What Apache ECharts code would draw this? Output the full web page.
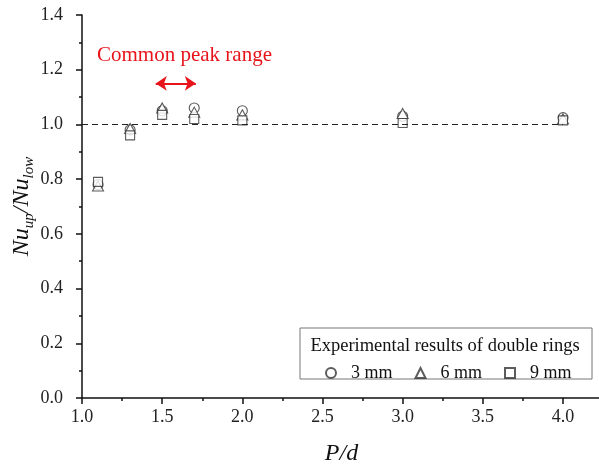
<!DOCTYPE html>
<html>
<head>
<meta charset="utf-8">
<script src="https://cdn.jsdelivr.net/npm/echarts@6/dist/echarts.min.js"></script>
<style>
html,body{margin:0;padding:0;background:#fff;}
#c{width:599px;height:466px;}
</style>
</head>
<body>
<div id="c"></div>
<script>
// Data
const pd = [1.1, 1.3, 1.5, 1.7, 2.0, 3.0, 4.0];
const ratio3mm = [0.78, 0.98, 1.05, 1.06, 1.05, 1.03, 1.025];
const ratio6mm = [0.775, 0.985, 1.06, 1.045, 1.035, 1.04, 1.02];
const ratio9mm = [0.79, 0.96, 1.035, 1.02, 1.015, 1.005, 1.015];
const seriesNames = ['3 mm', '6 mm', '9 mm'];
const xTicks = [1.0, 1.5, 2.0, 2.5, 3.0, 3.5, 4.0];
const yTicks = [0.0, 0.2, 0.4, 0.6, 0.8, 1.0, 1.2, 1.4];
const refLine = [[1.0, 1.0], [4.0, 1.0]];
const peakArrow = [[1.46, 1.15], [1.71, 1.15]];

const FONT = '"Liberation Serif","Times New Roman",serif';
const pair = (xs, ys) => xs.map((x, i) => [x, ys[i]]);

const chart = echarts.init(document.getElementById('c'), null, {renderer: 'canvas'});

const markerBase = {
  type: 'scatter',
  symbolSize: 9,
  clip: false,
  itemStyle: {color: '#ffffff', borderColor: '#333333', borderWidth: 1.1},
  emphasis: {disabled: true}
};

const option = {
  animation: false,
  backgroundColor: '#ffffff',
  grid: {left: 82, right: 36, top: 15, bottom: 68, containLabel: false, outerBoundsMode: 'none'},
  xAxis: {
    type: 'value',
    min: xTicks[0],
    max: xTicks[xTicks.length - 1],
    interval: 0.5,
    name: 'P/d',
    nameLocation: 'middle',
    nameGap: 44,
    nameMoveOverlap: false,
    nameTextStyle: {fontFamily: FONT, fontStyle: 'italic', fontSize: 24, color: '#111',
      padding: [0, 0, 0, 38]},
    axisLine: {show: true, onZero: false, lineStyle: {color: '#111', width: 1.5}},
    axisTick: {show: true, inside: false, length: 6, lineStyle: {color: '#111', width: 1.5}},
    minorTick: {show: true, splitNumber: 2, length: 3, lineStyle: {color: '#111', width: 1.5}},
    axisLabel: {fontFamily: FONT, fontSize: 18, color: '#222', margin: 10,
      formatter: v => v.toFixed(1)},
    splitLine: {show: false}
  },
  yAxis: {
    type: 'value',
    min: yTicks[0],
    max: yTicks[yTicks.length - 1],
    interval: 0.2,
    name: '{n|Nu}{s|up}{n|/Nu}{s|low}',
    nameLocation: 'middle',
    nameRotate: 90,
    nameGap: 45,
    nameMoveOverlap: false,
    nameTextStyle: {
      fontFamily: FONT, color: '#111',
      rich: {
        n: {fontFamily: FONT, fontStyle: 'italic', fontSize: 24, lineHeight: 30, color: '#111'},
        s: {fontFamily: FONT, fontStyle: 'italic', fontSize: 15, lineHeight: 15, verticalAlign: 'bottom', color: '#111'}
      }
    },
    axisLine: {show: true, onZero: false, lineStyle: {color: '#111', width: 1.5}},
    axisTick: {show: true, inside: false, length: 6, lineStyle: {color: '#111', width: 1.5}},
    minorTick: {show: true, splitNumber: 2, length: 3, lineStyle: {color: '#111', width: 1.5}},
    axisLabel: {fontFamily: FONT, fontSize: 18, color: '#222', margin: 19,
      formatter: v => v.toFixed(1)},
    splitLine: {show: false}
  },
  legend: {
    show: true,
    left: 320,
    top: 359,
    itemWidth: 10,
    itemHeight: 10,
    itemGap: 22,
    data: seriesNames.map((n, i) => ({name: n, icon: ['circle', 'triangle', 'rect'][i]})),
    textStyle: {fontFamily: FONT, fontSize: 18, color: '#111', padding: [0, 0, 0, 10]},
    selectedMode: false
  },
  series: [
    Object.assign({}, markerBase, {
      name: seriesNames[0], symbol: 'circle', symbolSize: 10, z: 2,
      data: pair(pd, ratio3mm),
      markLine: {
        silent: true, symbol: ['none', 'none'],
        lineStyle: {type: [6, 4], color: '#222', width: 1.2},
        label: {show: false},
        data: [[{coord: refLine[0]}, {coord: refLine[1]}]]
      }
    }),
    Object.assign({}, markerBase, {
      name: seriesNames[1], symbol: 'triangle', symbolSize: [11, 10], z: 3,
      data: pair(pd, ratio6mm),
      markLine: {
        silent: true, symbol: ['arrow', 'arrow'], symbolSize: [11, 11],
        lineStyle: {type: 'solid', color: '#e8141b', width: 2},
        itemStyle: {color: '#e8141b'},
        label: {show: false},
        data: [[{coord: peakArrow[0]}, {coord: peakArrow[1]}]]
      }
    }),
    Object.assign({}, markerBase, {
      name: seriesNames[2], symbol: 'rect', symbolSize: 9, z: 4,
      data: pair(pd, ratio9mm)
    })
  ],
  graphic: [
    {
      type: 'text', left: 97, top: 45, z: 10,
      style: {text: 'Common peak range', fontFamily: FONT, fontSize: 21, fill: '#e8141b'}
    },
    {
      type: 'rect', z: 1,
      shape: {x: 300, y: 328, width: 292, height: 51},
      style: {fill: '#ffffff', stroke: '#777', lineWidth: 1}
    },
    {
      type: 'text', z: 10, x: 445, y: 346,
      style: {text: 'Experimental results of double rings', fontFamily: FONT, fontSize: 18.5,
        fill: '#111', textAlign: 'center', textVerticalAlign: 'middle'}
    }
  ]
};

chart.setOption(option);

// extend the x axis line past 4.0 to the right edge, as in the reference
const end = chart.convertToPixel({xAxisIndex: 0, yAxisIndex: 0}, [xTicks[xTicks.length - 1], yTicks[0]]);
chart.setOption({
  graphic: option.graphic.concat([{
    type: 'line', z: 5,
    shape: {x1: end[0], y1: end[1], x2: 599, y2: end[1]},
    style: {stroke: '#111', lineWidth: 1.5}
  }])
});
</script>
</body>
</html>
